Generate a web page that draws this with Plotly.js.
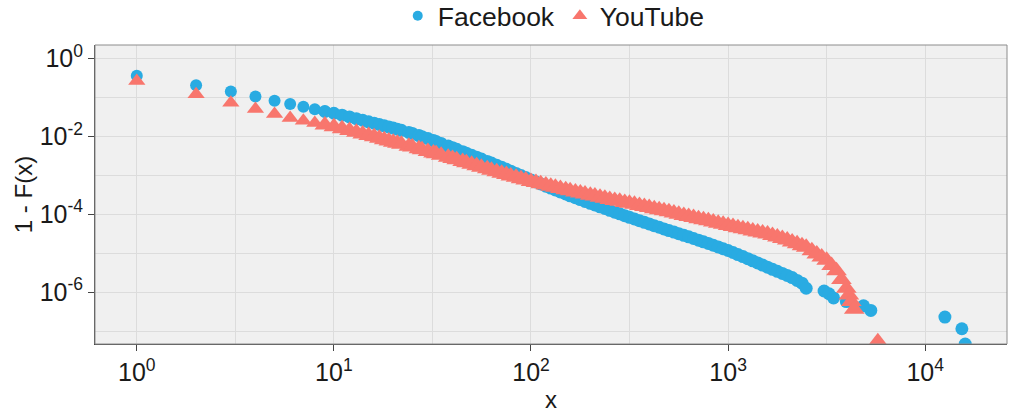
<!DOCTYPE html>
<html>
<head>
<meta charset="utf-8">
<script src="https://cdn.plot.ly/plotly-3.0.1.min.js"></script>
<style>
html,body{margin:0;padding:0;background:#fff;}
#chart{width:1026px;height:413px;}
</style>
</head>
<body>
<div id="chart"></div>
<script>
// ---- data ----
var seriesNames = ["Facebook", "YouTube"];

var xShared = [
  1,2,3,4,5,6,7,8,9,10,
  11,12,13,14,15,16,17,18,19,20,
  21,22,24,25,27,28,30,32,33,35,
  38,40,42,45,47,50,53,56,60,63,
  67,71,75,79,84,89,94,100,106,112,
  119,126,133,141,150,158,168,178,188,200,
  211,224,237,251,266,282,299,316,335,355,
  376,398,422,447,473,501,531,562,596,631,
  668,708,750,794,841,891,944,1000,1059,1122,
  1189,1259,1334,1413,1496,1585,1679,1778,1884,1995,
  2113,2239,2371,2490
];

var facebookY = [
  3.58e-1,2.04e-1,1.40e-1,1.04e-1,8.18e-2,6.76e-2,5.69e-2,4.90e-2,4.32e-2,3.89e-2,
  3.48e-2,3.13e-2,2.83e-2,2.57e-2,2.35e-2,2.16e-2,2.00e-2,1.85e-2,1.73e-2,1.62e-2,
  1.51e-2,1.42e-2,1.25e-2,1.18e-2,1.04e-2,9.77e-3,8.69e-3,7.76e-3,7.31e-3,6.55e-3,
  5.60e-3,5.08e-3,4.61e-3,4.02e-3,3.68e-3,3.25e-3,2.90e-3,2.59e-3,2.26e-3,2.05e-3,
  1.80e-3,1.60e-3,1.42e-3,1.27e-3,1.11e-3,9.82e-4,8.69e-4,7.59e-4,6.71e-4,5.98e-4,
  5.25e-4,4.68e-4,4.19e-4,3.73e-4,3.30e-4,2.96e-4,2.64e-4,2.37e-4,2.13e-4,1.90e-4,
  1.73e-4,1.55e-4,1.40e-4,1.26e-4,1.13e-4,1.02e-4,9.18e-5,8.32e-5,7.53e-5,6.84e-5,
  6.19e-5,5.62e-5,5.09e-5,4.62e-5,4.19e-5,3.80e-5,3.47e-5,3.16e-5,2.88e-5,2.63e-5,
  2.38e-5,2.16e-5,1.96e-5,1.78e-5,1.60e-5,1.45e-5,1.30e-5,1.17e-5,1.04e-5,9.23e-6,
  8.17e-6,7.24e-6,6.38e-6,5.62e-6,4.95e-6,4.37e-6,3.86e-6,3.43e-6,3.03e-6,2.69e-6,
  2.36e-6,2.00e-6,1.70e-6,1.26e-6
];

var youtubeY = [
  2.63e-1,1.20e-1,7.24e-2,5.01e-2,3.72e-2,2.95e-2,2.51e-2,2.19e-2,1.95e-2,1.74e-2,
  1.55e-2,1.40e-2,1.26e-2,1.15e-2,1.05e-2,9.64e-3,8.87e-3,8.18e-3,7.57e-3,7.06e-3,
  6.62e-3,6.24e-3,5.57e-3,5.28e-3,4.75e-3,4.51e-3,4.09e-3,3.73e-3,3.56e-3,3.27e-3,
  2.88e-3,2.67e-3,2.48e-3,2.24e-3,2.10e-3,1.91e-3,1.75e-3,1.61e-3,1.46e-3,1.35e-3,
  1.23e-3,1.13e-3,1.04e-3,9.62e-4,8.83e-4,8.15e-4,7.55e-4,6.92e-4,6.46e-4,6.04e-4,
  5.61e-4,5.25e-4,4.91e-4,4.58e-4,4.26e-4,3.99e-4,3.73e-4,3.51e-4,3.30e-4,3.08e-4,
  2.91e-4,2.72e-4,2.55e-4,2.40e-4,2.26e-4,2.14e-4,2.01e-4,1.91e-4,1.79e-4,1.68e-4,
  1.57e-4,1.48e-4,1.39e-4,1.30e-4,1.22e-4,1.15e-4,1.07e-4,1.00e-4,9.33e-5,8.71e-5,
  8.17e-5,7.67e-5,7.19e-5,6.76e-5,6.31e-5,5.89e-5,5.50e-5,5.13e-5,4.81e-5,4.52e-5,
  4.24e-5,3.98e-5,3.73e-5,3.51e-5,3.29e-5,3.09e-5,2.83e-5,2.60e-5,2.38e-5,2.19e-5,
  1.95e-5,1.74e-5,1.55e-5,1.41e-5
];

var facebookTailX = [3069,3250,3428,3981,4864,5297,12589,15346,15959];
var facebookTailY = [1.07e-6,9.1e-7,7.1e-7,5.75e-7,4.47e-7,3.39e-7,2.29e-7,1.15e-7,4.68e-8];

var youtubeTailX = [2661,2818,2985,3162,3350,3548,3758,3981,4100,4217,4365,5750];
var youtubeTailY = [1.15e-5,9.55e-6,7.94e-6,6.61e-6,4.84e-6,3.55e-6,2.11e-6,1.26e-6,8.51e-7,5.75e-7,3.63e-7,5.37e-8];

var xTickVals = [1,10,100,1000,10000];
var xTickText = ["10<sup>0</sup>","10<sup>1</sup>","10<sup>2</sup>","10<sup>3</sup>","10<sup>4</sup>"];
var xMinorVals = [3.1623,31.623,316.23,3162.3,31623];
var yTickVals = [1,1e-2,1e-4,1e-6];
var yTickText = ["10<sup>0</sup>","10<sup>-2</sup>","10<sup>-4</sup>","10<sup>-6</sup>"];
var yMinorVals = [1e-1,1e-3,1e-5,1e-7];

// ---- chart ----
var blue = "#29abe2", red = "#f8766d";
var FONT = "Liberation Sans, Arial, Helvetica, sans-serif";
var NSPARSE = 9; // the first, well separated points are drawn a bit smaller

var fbX = xShared.concat(facebookTailX), fbY = facebookY.concat(facebookTailY);
var ytX = xShared.concat(youtubeTailX), ytY = youtubeY.concat(youtubeTailY);

function pts(name, x, y, symbol, size, color) {
  return {name: name, type: "scatter", mode: "markers", x: x, y: y,
          marker: {symbol: symbol, size: size, color: color}, showlegend: false};
}

var traces = [
  pts(seriesNames[0], fbX.slice(0, NSPARSE), fbY.slice(0, NSPARSE), "circle", 12, blue),
  pts(seriesNames[0], fbX.slice(NSPARSE - 1), fbY.slice(NSPARSE - 1), "circle", 13, blue),
  pts(seriesNames[1], ytX.slice(0, NSPARSE), ytY.slice(0, NSPARSE), "triangle-up", 15, red),
  pts(seriesNames[1], ytX.slice(NSPARSE - 1), ytY.slice(NSPARSE - 1), "triangle-up", 18, red),
  {
    name: seriesNames[0], type: "scatter", mode: "markers",
    x: [null], y: [null],
    marker: {symbol: "circle", size: 10, color: blue}, showlegend: true
  },
  {
    name: seriesNames[1], type: "scatter", mode: "markers",
    x: [null], y: [null],
    marker: {symbol: "triangle-up", size: 13, color: red}, showlegend: true
  }
];

var axisCommon = {
  type: "log",
  showgrid: true, gridcolor: "#dcdcdc", gridwidth: 1,
  zeroline: false,
  showline: true, linecolor: "#444", linewidth: 1,
  ticks: "outside", ticklen: 6, tickwidth: 1, tickcolor: "#444",
  tickfont: {family: FONT, size: 25, color: "#1a1a1a"},
  tickmode: "array"
};

var layout = {
  width: 1026, height: 413,
  margin: {l: 95, r: 19, t: 45, b: 69, autoexpand: false},
  paper_bgcolor: "#ffffff",
  plot_bgcolor: "#f0f0f0",
  font: {family: FONT, color: "#1a1a1a"},
  showlegend: true,
  legend: {
    orientation: "h", x: 0.503, xanchor: "center", y: 1.097, yanchor: "middle",
    font: {family: FONT, size: 26.5, color: "#1a1a1a"},
    bgcolor: "rgba(0,0,0,0)", itemwidth: 30, tracegroupgap: 0
  },
  xaxis: Object.assign({}, axisCommon, {
    range: [-0.212, 4.415],
    tickvals: xTickVals, ticktext: xTickText,
    minor: {tickvals: xMinorVals, showgrid: true, gridcolor: "#dcdcdc", gridwidth: 1, ticks: ""},
    title: {text: "x", font: {family: FONT, size: 24, color: "#1a1a1a"}, standoff: 8}
  }),
  yaxis: Object.assign({}, axisCommon, {
    range: [-7.33, 0.341],
    tickvals: yTickVals, ticktext: yTickText,
    minor: {tickvals: yMinorVals, showgrid: true, gridcolor: "#dcdcdc", gridwidth: 1, ticks: ""},
    title: {text: "1 - F(x)", font: {family: FONT, size: 24, color: "#1a1a1a"}, standoff: 0}
  }),
  shapes: [{
    type: "rect", xref: "paper", yref: "paper", x0: 0, x1: 1, y0: 0, y1: 1,
    line: {color: "#8c8c8c", width: 1}, fillcolor: "rgba(0,0,0,0)", layer: "above"
  }]
};

Plotly.newPlot("chart", traces, layout, {displayModeBar: false, staticPlot: true});
</script>
</body>
</html>
